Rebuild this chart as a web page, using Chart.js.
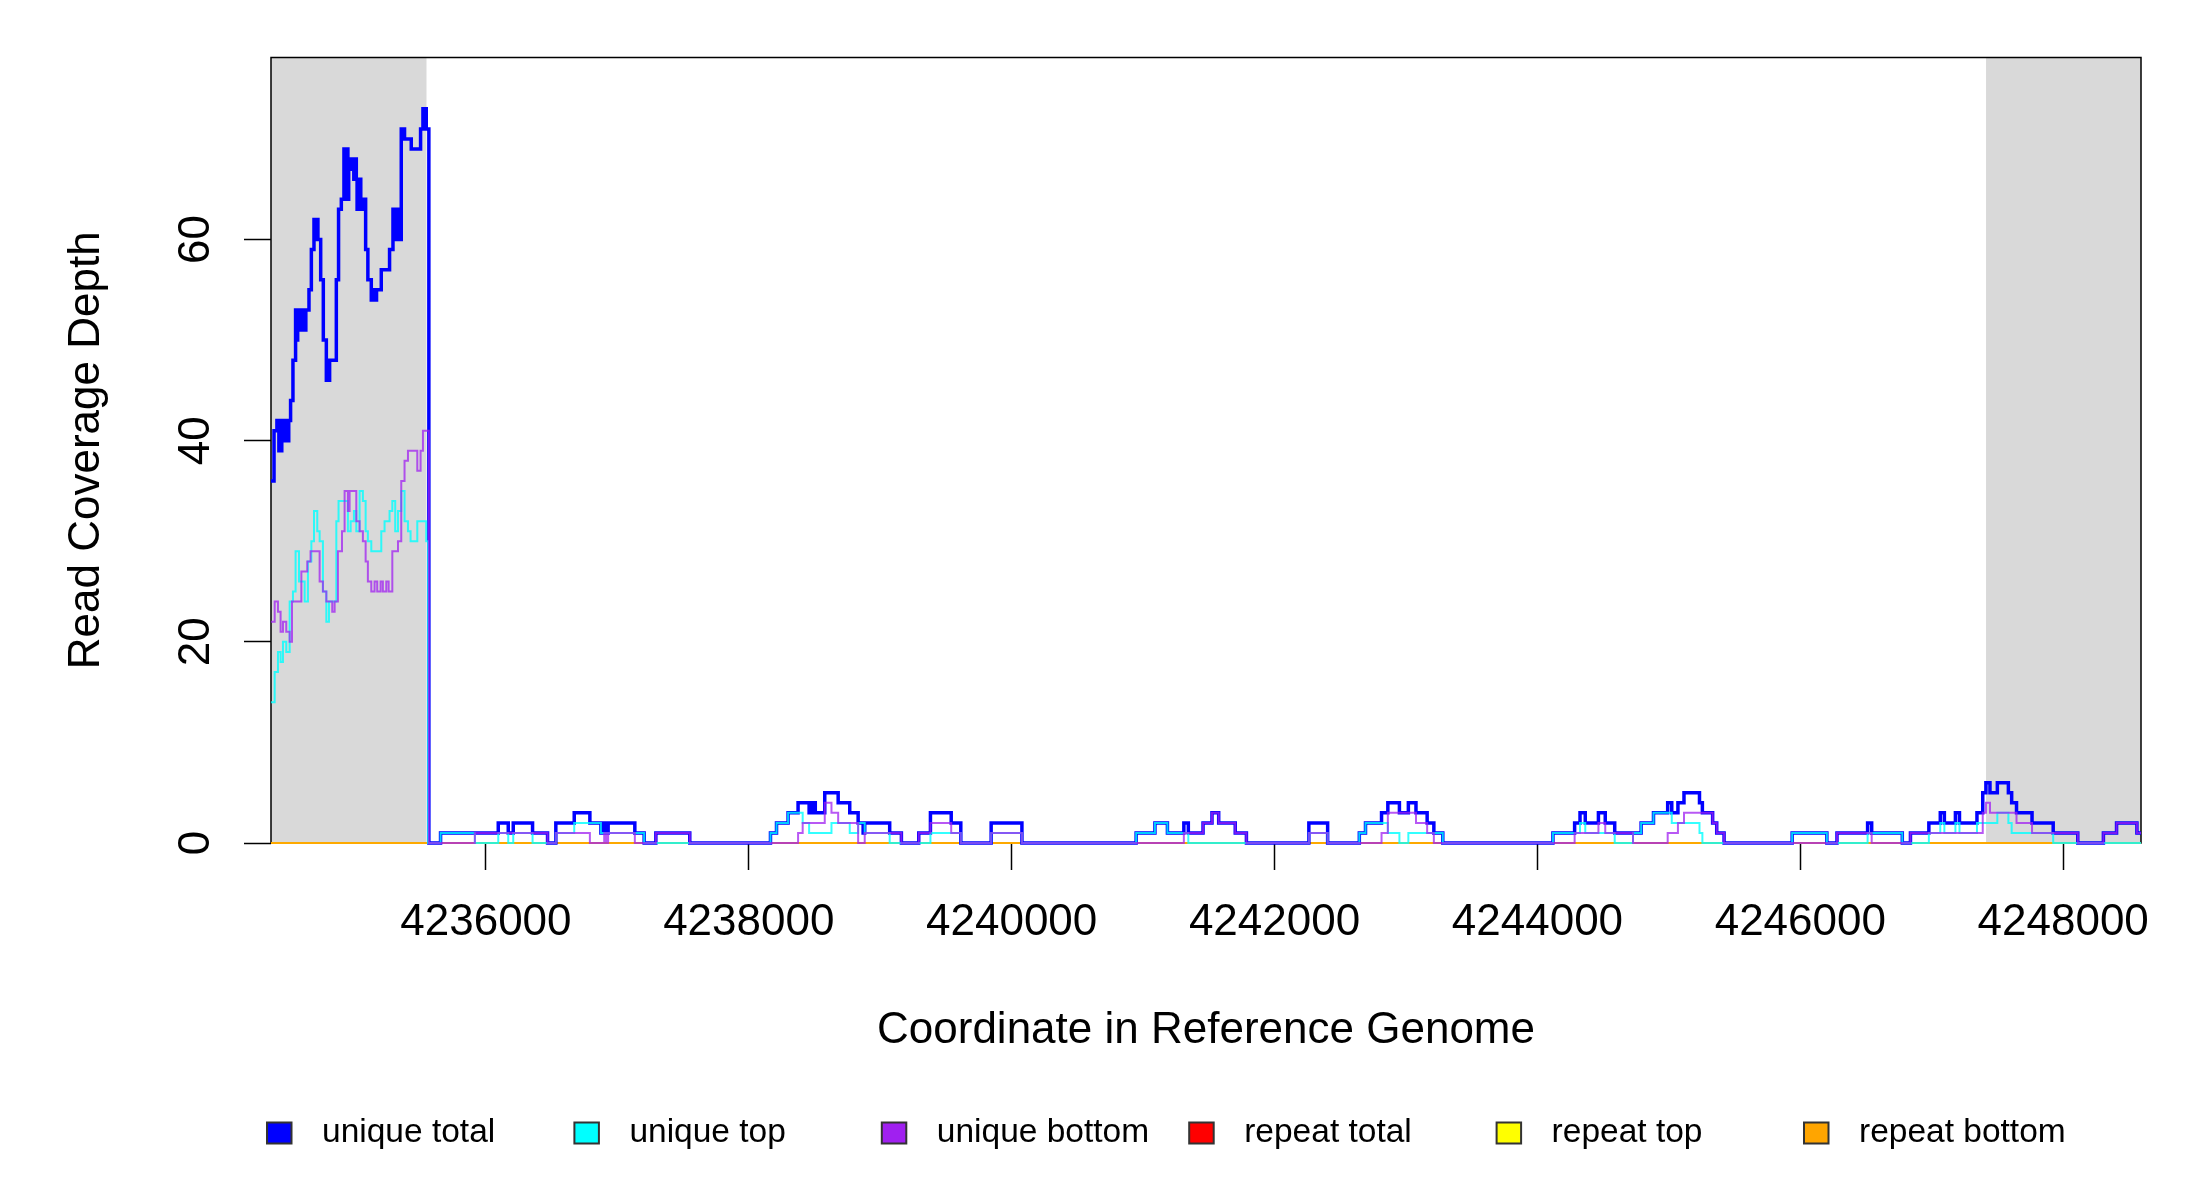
<!DOCTYPE html>
<html>
<head>
<meta charset="utf-8">
<title>Read Coverage Depth</title>
<script src="https://cdn.jsdelivr.net/npm/chart.js@4.4.1/dist/chart.umd.min.js"></script>
<style>
  html, body { margin: 0; padding: 0; background: #fff; }
  #wrap { width: 2200px; height: 1200px; }
</style>
</head>
<body>
<div id="wrap"><canvas id="coverageChart"></canvas></div>
<script>
// axis range and ticks
const xStart = 4234365;
const xEnd = 4248592;
const yMax = 78.1;
const xTicks = [4236000, 4238000, 4240000, 4242000, 4244000, 4246000, 4248000];
const yTicks = [0, 20, 40, 60];

// flanking regions shaded grey
const flankRegions = [[4234365, 4235548], [4247413, 4248592]];

// coverage steps: [position, depth] - depth holds until the next position
const uniqueTotal = [
  [4234365, 36], [4234388, 41], [4234410, 42], [4234425, 39], [4234432, 42], [4234440, 39], [4234447, 42],
  [4234458, 40], [4234466, 42], [4234474, 40], [4234482, 42], [4234490, 40], [4234500, 42], [4234514, 44],
  [4234532, 48], [4234552, 53], [4234560, 50], [4234568, 53], [4234578, 51], [4234588, 53], [4234598, 51],
  [4234608, 53], [4234618, 51], [4234630, 53], [4234654, 55], [4234672, 59], [4234692, 62], [4234698, 60],
  [4234704, 62], [4234712, 60], [4234718, 62], [4234722, 60], [4234743, 56], [4234763, 50], [4234786, 46],
  [4234791, 48], [4234796, 46], [4234801, 48], [4234806, 46], [4234811, 48], [4234862, 56], [4234879, 63],
  [4234900, 64], [4234920, 69], [4234926, 64], [4234932, 69], [4234938, 65], [4234944, 69], [4234950, 64],
  [4234956, 68], [4234963, 67], [4234988, 68], [4234995, 66], [4235000, 68], [4235014, 66], [4235020, 63],
  [4235027, 66], [4235034, 63], [4235041, 66], [4235048, 63], [4235064, 64], [4235085, 59], [4235102, 56],
  [4235128, 54], [4235136, 55], [4235144, 54], [4235152, 55], [4235160, 54], [4235168, 55], [4235204, 57],
  [4235267, 59], [4235293, 63], [4235300, 60], [4235308, 63], [4235316, 60], [4235324, 63], [4235332, 60],
  [4235356, 71], [4235362, 70], [4235368, 71], [4235381, 70], [4235432, 69], [4235503, 71], [4235521, 73],
  [4235527, 71], [4235533, 73], [4235546, 71], [4235566, 0],
  [4235655, 1], [4236094, 2], [4236170, 1], [4236208, 2], [4236355, 1], [4236469, 0], [4236532, 2],
  [4236672, 3], [4236791, 2], [4236875, 1], [4236900, 2], [4236915, 1], [4236930, 2], [4237133, 1],
  [4237204, 0], [4237293, 1], [4237551, 0],
  [4238165, 1], [4238211, 2], [4238299, 3], [4238375, 4], [4238459, 3], [4238470, 4], [4238482, 3],
  [4238494, 4], [4238506, 3], [4238578, 5], [4238680, 4], [4238768, 3], [4238832, 2], [4238870, 1],
  [4238882, 2], [4239072, 1], [4239161, 0], [4239293, 1], [4239382, 3], [4239540, 2], [4239613, 0],
  [4239844, 2], [4240078, 0],
  [4240947, 1], [4241090, 2], [4241185, 1], [4241310, 2], [4241344, 1], [4241456, 2], [4241524, 3],
  [4241575, 2], [4241701, 1], [4241786, 0],
  [4242261, 2], [4242404, 0],
  [4242645, 1], [4242692, 2], [4242814, 3], [4242862, 4], [4242950, 3], [4243018, 4], [4243076, 3],
  [4243161, 2], [4243212, 1], [4243280, 0],
  [4244118, 1], [4244283, 2], [4244324, 3], [4244364, 2], [4244464, 3], [4244516, 2], [4244588, 1],
  [4244789, 2], [4244883, 3], [4244991, 4], [4245022, 3], [4245069, 4], [4245115, 5], [4245233, 4],
  [4245255, 3], [4245333, 2], [4245364, 1], [4245420, 0],
  [4245938, 1], [4246202, 0], [4246279, 1], [4246512, 2], [4246543, 1], [4246776, 0], [4246838, 1],
  [4246978, 2], [4247065, 3], [4247096, 2], [4247180, 3], [4247211, 2], [4247344, 3], [4247388, 5],
  [4247412, 6], [4247443, 5], [4247499, 6], [4247583, 5], [4247608, 4], [4247645, 3], [4247763, 2],
  [4247924, 1], [4248111, 0], [4248306, 1], [4248406, 2], [4248561, 1], [4248592, 1]
];

const uniqueTop = [
  [4234365, 14], [4234393, 17], [4234418, 19], [4234438, 18], [4234456, 20], [4234481, 19], [4234507, 24],
  [4234532, 25], [4234552, 29], [4234578, 26], [4234621, 24], [4234646, 28], [4234672, 30], [4234692, 33],
  [4234717, 31], [4234735, 30], [4234760, 25], [4234786, 22], [4234806, 24], [4234862, 32], [4234879, 34],
  [4234950, 31], [4234971, 32], [4234996, 33], [4235014, 31], [4235039, 35], [4235064, 34], [4235085, 31],
  [4235102, 30], [4235128, 29], [4235204, 31], [4235229, 32], [4235267, 33], [4235288, 34], [4235310, 31],
  [4235331, 33], [4235356, 35], [4235381, 32], [4235407, 31], [4235427, 30], [4235478, 32], [4235546, 30],
  [4235559, 0],
  [4235655, 1], [4235916, 0], [4236094, 1], [4236170, 0], [4236208, 1], [4236355, 0], [4236532, 1],
  [4236672, 2], [4236875, 1], [4237204, 0],
  [4238165, 1], [4238211, 2], [4238299, 3], [4238410, 2], [4238459, 1], [4238629, 2], [4238768, 1],
  [4238832, 2], [4238882, 1], [4239072, 0], [4239382, 1], [4239613, 0],
  [4239844, 1], [4240078, 0],
  [4240947, 1], [4241090, 2], [4241185, 1], [4241344, 0],
  [4242261, 1], [4242404, 0],
  [4242645, 1], [4242692, 2], [4242862, 1], [4242950, 0], [4243018, 1], [4243280, 0],
  [4244118, 1], [4244324, 2], [4244364, 1], [4244588, 0], [4244727, 1], [4244789, 2], [4244883, 3],
  [4245022, 2], [4245233, 1], [4245255, 0],
  [4245938, 1], [4246202, 0], [4246512, 1], [4246776, 0],
  [4246978, 1], [4247065, 2], [4247096, 1], [4247180, 2], [4247211, 1], [4247344, 2], [4247499, 3],
  [4247583, 2], [4247608, 1], [4247924, 0], [4248592, 0]
];

const uniqueBottom = [
  [4234365, 22], [4234393, 24], [4234418, 23], [4234438, 21], [4234456, 22], [4234481, 21], [4234507, 20],
  [4234525, 24], [4234596, 27], [4234641, 28], [4234666, 29], [4234735, 26], [4234760, 25], [4234786, 24],
  [4234831, 23], [4234849, 24], [4234874, 29], [4234905, 31], [4234925, 35], [4234950, 33], [4234963, 35],
  [4235014, 32], [4235039, 31], [4235064, 30], [4235085, 28], [4235102, 26], [4235128, 25], [4235153, 26],
  [4235173, 25], [4235199, 26], [4235216, 25], [4235242, 26], [4235260, 25], [4235288, 29], [4235331, 30],
  [4235356, 36], [4235381, 38], [4235407, 39], [4235478, 37], [4235503, 39], [4235521, 41], [4235566, 0],
  [4235916, 1], [4236469, 0], [4236532, 1], [4236791, 0], [4236900, 1], [4236915, 0], [4236930, 1],
  [4237133, 0], [4237293, 1], [4237551, 0],
  [4238375, 1], [4238410, 2], [4238578, 4], [4238629, 3], [4238680, 2], [4238832, 0], [4238882, 1],
  [4239161, 0], [4239293, 1], [4239382, 2], [4239540, 1], [4239613, 0],
  [4239844, 1], [4240078, 0],
  [4241310, 1], [4241456, 2], [4241524, 3], [4241575, 2], [4241701, 1], [4241786, 0],
  [4242261, 1], [4242404, 0],
  [4242814, 1], [4242862, 3], [4243076, 2], [4243161, 1], [4243212, 0],
  [4244283, 1], [4244464, 2], [4244516, 1], [4244727, 0], [4244991, 1], [4245069, 2], [4245115, 3],
  [4245333, 2], [4245364, 1], [4245420, 0],
  [4246279, 1], [4246543, 0], [4246838, 1], [4247388, 3], [4247412, 4], [4247443, 3], [4247645, 2],
  [4247763, 1], [4248111, 0], [4248306, 1], [4248406, 2], [4248561, 1], [4248592, 1]
];

// repeat reads: no coverage anywhere in this window
const repeatTotal = [[4234365, 0], [4248592, 0]];
const repeatTop = [[4234365, 0], [4248592, 0]];
const repeatBottom = [[4234365, 0], [4248592, 0]];

const FONT = "'Liberation Sans', Arial, Helvetica, sans-serif";
Chart.defaults.font.family = FONT;
Chart.defaults.color = '#000';

const toPoints = steps => steps.map(([x, y]) => ({ x, y }));

function series(label, steps, color, width, order) {
  return {
    label,
    data: toPoints(steps),
    borderColor: color,
    legendColor: color,
    borderWidth: width,
    stepped: 'before',
    pointRadius: 0,
    tension: 0,
    fill: false,
    order,
    clip: { left: 0, top: 0, right: 0, bottom: 4 }
  };
}

const datasets = [
  series('unique total', uniqueTotal, '#0000ff', 3.5, 2),
  series('unique top', uniqueTop, 'rgba(0, 255, 255, 0.8)', 2, 1),
  series('unique bottom', uniqueBottom, 'rgba(160, 32, 240, 0.75)', 2, 0),
  series('repeat total', repeatTotal, 'rgba(255, 0, 0, 0.75)', 2, 5),
  series('repeat top', repeatTop, 'rgba(255, 255, 0, 0.75)', 2, 4),
  series('repeat bottom', repeatBottom, 'rgba(255, 165, 0, 0.85)', 2, 3)
];
const legendFill = ['#0000ff', '#00ffff', '#a020f0', '#ff0000', '#ffff00', '#ffa500'];

// grey flanks, frame, rotated y labels and the bottom legend
const framePlugin = {
  id: 'framePlugin',
  beforeDatasetsDraw(chart) {
    const { ctx, chartArea: a, scales: { x, y } } = chart;
    ctx.save();
    ctx.fillStyle = '#d9d9d9';
    const yTop = y.getPixelForValue(yMax);
    const yZero = y.getPixelForValue(0);
    flankRegions.forEach(([s, e]) => {
      const x0 = x.getPixelForValue(s);
      const x1 = x.getPixelForValue(e);
      ctx.fillRect(x0, yTop, x1 - x0, yZero - yTop);
    });
    ctx.strokeStyle = '#000';
    ctx.lineWidth = 1.5;
    ctx.strokeRect(a.left, a.top, a.right - a.left, a.bottom - a.top);
    ctx.restore();
  },
  afterDraw(chart) {
    const { ctx, scales: { y } } = chart;
    ctx.save();
    ctx.fillStyle = '#000';
    ctx.font = '44px ' + FONT;
    ctx.textAlign = 'center';
    ctx.textBaseline = 'alphabetic';
    y.ticks.forEach(t => {
      ctx.save();
      ctx.translate(209, y.getPixelForValue(t.value));
      ctx.rotate(-Math.PI / 2);
      ctx.fillText(String(t.value), 0, 0);
      ctx.restore();
    });

    // legend, evenly spaced like R's horizontal legend
    ctx.font = '33.5px ' + FONT;
    ctx.textAlign = 'left';
    ctx.textBaseline = 'middle';
    const legendY = 1133;
    chart.data.datasets.forEach((ds, i) => {
      const left = 267 + i * 307.4;
      ctx.fillStyle = legendFill[i];
      ctx.fillRect(left, legendY - 10.5, 24.5, 21);
      ctx.strokeStyle = '#333';
      ctx.lineWidth = 2;
      ctx.strokeRect(left, legendY - 10.5, 24.5, 21);
      ctx.fillStyle = '#000';
      ctx.fillText(ds.label, left + 55, legendY);
    });
    ctx.restore();
  }
};

const chart = new Chart(document.getElementById('coverageChart'), {
  type: 'line',
  data: { datasets },
  plugins: [framePlugin],
  options: {
    responsive: true,
    maintainAspectRatio: false,
    animation: false,
    events: [],
    layout: { padding: { top: 57.5, right: 59, bottom: 0, left: 0 } },
    plugins: {
      legend: { display: false },
      tooltip: { enabled: false },
      title: { display: false }
    },
    scales: {
      x: {
        type: 'linear',
        position: 'bottom',
        min: xStart,
        max: xEnd,
        afterFit: s => { s.height = 357; },
        afterBuildTicks: s => { s.ticks = xTicks.map(v => ({ value: v })); },
        border: { display: false },
        grid: {
          drawOnChartArea: false,
          drawTicks: true,
          tickLength: 27,
          tickWidth: 1.5,
          tickColor: '#000'
        },
        ticks: {
          autoSkip: false,
          maxRotation: 0,
          minRotation: 0,
          padding: 26,
          color: '#000',
          font: { size: 44 },
          callback: v => String(v)
        },
        title: {
          display: true,
          text: 'Coordinate in Reference Genome',
          color: '#000',
          font: { size: 44 },
          padding: { top: 0, bottom: 142.6 }
        }
      },
      y: {
        min: 0,
        max: yMax,
        afterFit: s => { s.width = 271; },
        afterBuildTicks: s => { s.ticks = yTicks.map(v => ({ value: v })); },
        border: { display: false },
        grid: {
          drawOnChartArea: false,
          drawTicks: true,
          tickLength: 27,
          tickWidth: 1.5,
          tickColor: '#000'
        },
        ticks: { display: false },
        title: {
          display: true,
          text: 'Read Coverage Depth',
          color: '#000',
          font: { size: 44 },
          padding: { top: 60.6, bottom: 0 }
        }
      }
    }
  }
});
</script>
</body>
</html>
